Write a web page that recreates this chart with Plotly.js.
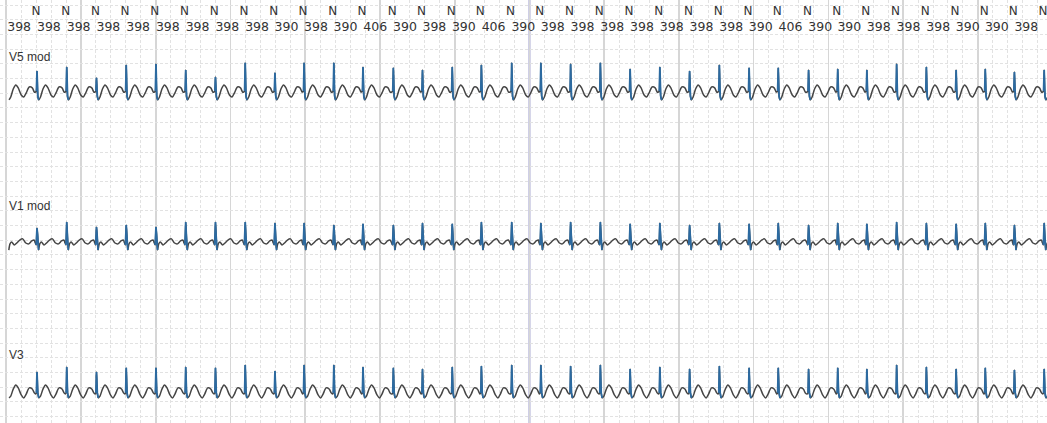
<!DOCTYPE html>
<html><head><meta charset="utf-8">
<script src="https://cdn.plot.ly/plotly-3.0.1.min.js"></script>
<style>html,body{margin:0;padding:0;background:#fff}#chart{width:1047px;height:423px}</style>
</head><body><div id="chart"></div>
<script>
// ---- data read from the strip ----
// RR interval labels (ms), each sits between two consecutive beats
const rrMs = [398,398,398,398,398,398,398,398,398,390,398,390,406,390,398,390,406,390,
              398,398,398,398,398,398,398,390,406,390,390,398,398,398,390,390,398,398];
// beat classification labels for the 35 annotated beats
const beatCodes = ['N','N','N','N','N','N','N','N','N','N','N','N','N','N','N','N','N','N',
                   'N','N','N','N','N','N','N','N','N','N','N','N','N','N','N','N','N'];
const firstBeatMs = 495;   // time of the first annotated beat
const traceStartMs = 110;  // waveform starts here

// R-peak amplitude (mV) of each beat (beat 0 = partial beat before the first label)
const v5R = [0.80,0.71,0.85,0.48,0.92,0.95,0.75,0.51,0.99,0.65,0.99,0.99,
             0.85,0.82,0.75,0.85,0.92,0.99,0.99,0.95,0.99,0.78,0.85,0.71,
             0.92,0.82,0.82,0.75,0.78,0.75,0.95,0.85,0.75,0.78,0.68,0.75];
const v1R = [0.60,0.51,0.71,0.54,0.61,0.54,0.71,0.71,0.71,0.68,0.68,0.61,
             0.65,0.61,0.68,0.65,0.71,0.71,0.68,0.71,0.71,0.65,0.68,0.61,
             0.68,0.65,0.68,0.61,0.68,0.65,0.71,0.68,0.65,0.68,0.61,0.68];
const v3R = [0.80,0.68,0.85,0.68,0.82,0.82,0.85,0.82,0.92,0.71,0.92,0.92,
             0.85,0.82,0.78,0.85,0.88,0.92,0.92,0.88,0.92,0.78,0.85,0.78,
             0.88,0.82,0.82,0.78,0.82,0.78,0.92,0.85,0.78,0.82,0.75,0.78];

// beat templates: time from R peak (ms) and amplitude (mV); the R point takes the beat's own R value
const v5TplT = [-20,-8,0,11,24,47,80,114,147,187,221,254,294,335,362];
const v5TplY = [0,0.03,null,-0.14,-0.27,-0.17,0.10,0.24,0.14,-0.10,-0.17,-0.03,0.17,0.14,0.0];
const v1TplT = [-27,-11,0,9,21,37,60,94,127,167,207,248,288,328,361];
const v1TplY = [0.03,-0.07,null,0.24,-0.24,-0.03,0.03,-0.07,0.0,0.10,0.14,0.0,-0.03,0.07,0.10];
const v3TplT = [-20,-8,0,11,24,47,80,114,147,187,221,254,294,335,362];
const v3TplY = [-0.07,-0.03,null,-0.03,-0.20,-0.14,0.10,0.24,0.14,-0.10,-0.20,-0.07,0.14,0.10,-0.03];
const qrsRange = [1,4];     // template points drawn in blue (QRS)

const leadNames = ['V5 mod','V1 mod','V3'];

// ---- build ----
const beats = [firstBeatMs - rrMs[0]];
for (let i = 0; i < rrMs.length - 1; i++) beats.push(beats[i] + rrMs[i]);

function buildLead(tT, tY, rAmp, base) {
  const gx = [], gy = [], bx = [], by = [];
  for (let b = 0; b < rAmp.length; b++) {
    for (let j = 0; j < tT.length; j++) {
      const t = beats[b] + tT[j];
      const v = base + (tY[j] === null ? rAmp[b] : tY[j]);
      if (t >= traceStartMs) { gx.push(t); gy.push(v); }
      if (j >= qrsRange[0] && j <= qrsRange[1] && t >= traceStartMs) { bx.push(t); by.push(v); }
    }
    bx.push(null); by.push(null);
  }
  return [
    {x: gx, y: gy, type: 'scatter', mode: 'lines', line: {color: '#454545', width: 1.5, shape: 'spline', smoothing: 0.7}, hoverinfo: 'skip'},
    {x: bx, y: by, type: 'scatter', mode: 'lines', line: {color: '#2c6aa0', width: 1.8}, connectgaps: false, hoverinfo: 'skip'}
  ];
}

const PXMV = 29.4;          // pixels per mV
const H = 423;
const baseV5 = -92 / PXMV, baseV1 = -243 / PXMV, baseV3 = -392 / PXMV;

const traces = [
  ...buildLead(v5TplT, v5TplY, v5R, baseV5),
  ...buildLead(v1TplT, v1TplY, v1R, baseV1),
  ...buildLead(v3TplT, v3TplY, v3R, baseV3)
];

// beat labels
const nX = beats.slice(1, 1 + beatCodes.length).map(t => t - 15);
traces.push({x: nX, y: nX.map(() => -11.5 / PXMV), text: beatCodes, type: 'scatter', mode: 'text',
  textfont: {family: 'DejaVu Sans', size: 12, color: '#333'}, cliponaxis: false, hoverinfo: 'skip'});
const rrX = rrMs.map((r, i) => beats[i] + r / 2 - 40);
traces.push({x: rrX, y: rrX.map(() => -28 / PXMV), text: rrMs.map(String), type: 'scatter', mode: 'text',
  textfont: {family: 'DejaVu Sans', size: 12.5, color: '#333'}, cliponaxis: false, hoverinfo: 'skip'});

const leadY = [-57, -206, -355];
const annotations = leadNames.map((n, i) => ({
  text: n, xref: 'paper', yref: 'y', x: 7 / 1047, y: leadY[i] / PXMV, xanchor: 'left', yanchor: 'middle',
  showarrow: false, font: {family: 'Liberation Sans, Arial', size: 12, color: '#333'}
}));

const layout = {
  width: 1047, height: 423, margin: {l: 0, r: 0, t: 0, b: 0},
  paper_bgcolor: '#fff', plot_bgcolor: '#fff', showlegend: false,
  xaxis: {range: [0, 1047 * 13.38], showticklabels: false, ticks: '', zeroline: false, showline: false,
    tick0: 84, dtick: 1000, showgrid: true, gridcolor: '#d6d6d6', gridwidth: 1.6,
    minor: {tick0: 84, dtick: 200, showgrid: true, gridcolor: '#e2e2e2', gridwidth: 1, griddash: '3px,2px'}},
  yaxis: {range: [-H / PXMV, 0], showticklabels: false, ticks: '', zeroline: false, showline: false,
    tick0: -5 / PXMV, dtick: 0.5, showgrid: true, gridcolor: '#e2e2e2', gridwidth: 1, griddash: '3px,2px'},
  shapes: [{type: 'line', xref: 'x', yref: 'paper', x0: 7084, x1: 7084, y0: 0, y1: 1,
    line: {color: '#c4c4e0', width: 2.5}, layer: 'below'}],
  annotations: annotations
};

Plotly.newPlot('chart', traces, layout, {staticPlot: true, displayModeBar: false});
</script></body></html>
